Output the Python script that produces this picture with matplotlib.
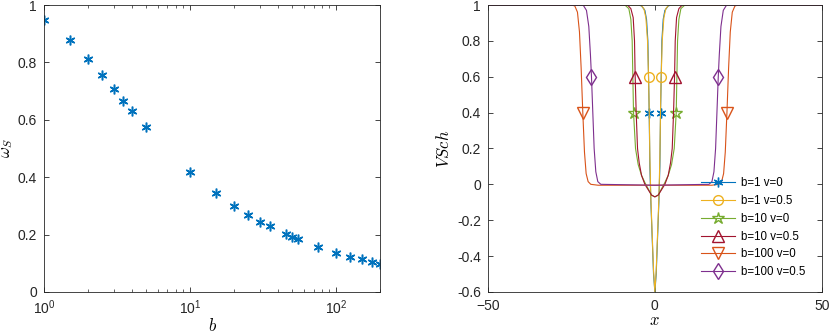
# omega_S vs b, and VSch profiles
import numpy as np
import matplotlib
matplotlib.use('Agg')
import matplotlib.pyplot as plt
from matplotlib.ticker import FixedLocator, FixedFormatter

plt.rcParams['font.family'] = ['Liberation Sans', 'DejaVu Sans']
plt.rcParams['mathtext.fontset'] = 'cm'

# left panel data
b_vals = [1, 1.5, 2, 2.5, 3, 3.5, 4, 5, 10, 15, 20, 25, 30, 35, 45, 50, 55, 75, 100, 125, 150, 175, 200]
omega_s = [0.947, 0.878, 0.813, 0.755, 0.707, 0.667, 0.631, 0.574, 0.418, 0.345, 0.300, 0.269,
           0.245, 0.229, 0.202, 0.192, 0.184, 0.158, 0.137, 0.123, 0.113, 0.105, 0.098]

# right panel: half profiles (x >= 0); curves are symmetric
x_b1v0 = [0, 0.4, 0.8, 1.2, 1.5, 1.7, 1.9, 2.1, 2.5, 3, 4, 5, 50]
y_b1v0 = [-0.6, -0.5, -0.3, -0.1, 0.1, 0.4, 0.6, 0.8, 0.92, 0.97, 0.995, 1, 1]
x_b1v05 = [0, 0.4, 0.8, 1.2, 1.5, 1.7, 1.9, 2.2, 2.7, 3.3, 4.2, 50]
y_b1v05 = [-0.6, -0.48, -0.28, -0.08, 0.15, 0.42, 0.6, 0.8, 0.93, 0.98, 1, 1]
x_b10v0 = [0, 1, 2, 3, 4, 5, 5.8, 6.4, 6.6, 6.8, 7.2, 7.8, 9, 50]
y_b10v0 = [-0.07, -0.06, -0.025, 0.01, 0.05, 0.11, 0.2, 0.4, 0.6, 0.8, 0.92, 0.98, 1, 1]
x_b10v05 = [0, 1, 2, 3, 4, 4.7, 5.2, 5.6, 5.9, 6.1, 6.5, 7.2, 8.2, 50]
y_b10v05 = [-0.07, -0.06, -0.03, 0.0, 0.05, 0.12, 0.2, 0.4, 0.6, 0.8, 0.93, 0.98, 1, 1]
x_b100v0 = [0, 17, 19.2, 20, 20.6, 21.1, 21.6, 22.1, 22.6, 23.2, 24, 25, 50]
y_b100v0 = [-0.005, -0.005, 0, 0.015, 0.06, 0.18, 0.4, 0.65, 0.85, 0.96, 0.995, 1, 1]
x_b100v05 = [0, 16.2, 17.1, 17.7, 18.2, 18.6, 19.0, 19.3, 19.8, 20.5, 21.5, 50]
y_b100v05 = [-0.005, 0, 0.015, 0.07, 0.2, 0.4, 0.6, 0.72, 0.88, 0.97, 1, 1]

labels = ['b=1 v=0', 'b=1 v=0.5', 'b=10 v=0', 'b=10 v=0.5', 'b=100 v=0', 'b=100 v=0.5']
marker_x = [1.7, 1.9, 6.4, 5.9, 21.6, 19.0]

colors = ['#0072BD', '#EDB120', '#77AC30', '#A2142F', '#D95319', '#7E2F8E']
markers = [(6, 2, 0), 'o', '*', '^', 'v', 'd']
msizes = [7, 7, 9, 8, 8, 8]

fig = plt.figure(figsize=(8.3, 3.34), dpi=100)
ax1 = fig.add_axes([0.053, 0.126, 0.405, 0.859])
ax2 = fig.add_axes([0.588, 0.126, 0.402, 0.859])

axis_col = '#262626'

# left
ax1.semilogx(b_vals, omega_s, linestyle='none', marker=(6, 2, 0), markersize=7,
             markeredgewidth=1.1, color='#0072BD')
ax1.set_xlim(1, 200)
ax1.set_ylim(0, 1)
ax1.set_yticks([0, 0.2, 0.4, 0.6, 0.8, 1])
ax1.set_yticklabels(['0', '0.2', '0.4', '0.6', '0.8', '1'])
ax1.xaxis.set_major_locator(FixedLocator([1, 10, 100]))
ax1.xaxis.set_major_formatter(FixedFormatter([r'$\mathregular{10^{0}}$',
                                              r'$\mathregular{10^{1}}$',
                                              r'$\mathregular{10^{2}}$']))
ax1.set_xlabel('$b$', fontsize=12, labelpad=0)
ax1.set_ylabel(r'$\omega_S$', fontsize=12, labelpad=2)

# right
halves = [(x_b1v0, y_b1v0), (x_b1v05, y_b1v05), (x_b10v0, y_b10v0),
          (x_b10v05, y_b10v05), (x_b100v0, y_b100v0), (x_b100v05, y_b100v05)]
for (hx, hy), lab, c, m, ms, mx in zip(halves, labels, colors, markers, msizes, marker_x):
    hx = np.array(hx, dtype=float)
    hy = np.array(hy, dtype=float)
    xf = np.concatenate([-hx[::-1], hx[1:]])
    yf = np.concatenate([hy[::-1], hy[1:]])
    idx = [int(np.argmin(np.abs(xf + mx))), int(np.argmin(np.abs(xf - mx)))]
    ax2.plot(xf, yf, color=c, linewidth=0.8, marker=m, markevery=idx, markersize=ms,
             markerfacecolor='none', markeredgecolor=c, markeredgewidth=1.0, label=lab)

ax2.set_xlim(-50, 50)
ax2.set_ylim(-0.6, 1)
ax2.set_xticks([-50, 0, 50])
ax2.set_yticks([-0.6, -0.4, -0.2, 0, 0.2, 0.4, 0.6, 0.8, 1])
ax2.set_yticklabels(['-0.6', '-0.4', '-0.2', '0', '0.2', '0.4', '0.6', '0.8', '1'])
ax2.set_xlabel('$x$', fontsize=12, labelpad=0)
ax2.set_ylabel('$VSch$', fontsize=12, labelpad=4)
ax2.legend(loc='lower right', bbox_to_anchor=(0.975, 0.02), frameon=False, fontsize=8.3,
           handlelength=3.0, labelspacing=0.5, borderpad=0.2, handletextpad=0.5)

for ax in (ax1, ax2):
    ax.tick_params(direction='in', top=True, right=True, labelsize=10, colors=axis_col,
                   length=3.5, width=0.6)
    ax.tick_params(axis='x', pad=5)
    ax.tick_params(axis='y', pad=5)
    ax.tick_params(which='minor', direction='in', top=True, right=True, length=2, width=0.5,
                   colors=axis_col)
    for s in ax.spines.values():
        s.set_color(axis_col)
        s.set_linewidth(0.6)

fig.savefig('out.png', dpi=100)
